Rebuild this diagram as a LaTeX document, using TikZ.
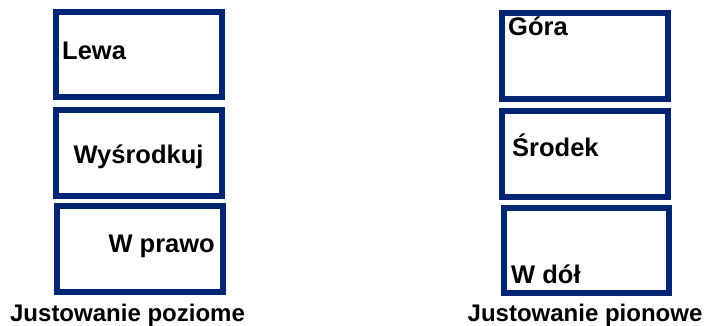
\documentclass[tikz,border=0pt]{standalone}
\usepackage{fontspec}
\setmainfont{Liberation Sans}
\definecolor{navy}{RGB}{0,38,115}
\begin{document}
\begin{tikzpicture}[x=1pt,y=-1pt,
  box/.style={draw=navy,line width=6pt,inner sep=0pt,minimum width=166pt,minimum height=86pt,fill=white},
  txt/.style={font=\fontsize{25.5}{30}\selectfont\bfseries,inner sep=0pt},
  captxt/.style={font=\fontsize{24}{29}\selectfont\bfseries,inner sep=0pt}]
\useasboundingbox[fill=white] (0,0) rectangle (717,326);
% left column
\node[box,minimum height=85pt] (l1) at (139,54.5) {};
\node[box] (l2) at (139,153) {};
\node[box] (l3) at (140,249) {};
\node[txt,anchor=base west] (lt1) at (62,60) {Lewa};
\node[txt,anchor=base] (lt2) at (138.5,163) {Wyśrodkuj};
\node[txt,anchor=base east] (lt3) at (215,252) {W prawo};
\node[captxt,anchor=base] (lc) at (127.5,321) {Justowanie poziome};
% right column
\node[box] (r1) at (585,56) {};
\node[box] (r2) at (585,154) {};
\node[box,minimum width=165pt,minimum height=85pt] (r3) at (586.5,250.5) {};
\node[txt,anchor=base west] (rt1) at (508,36) {Góra};
\node[txt,anchor=base west] (rt2) at (512,157) {Środek};
\node[txt,anchor=base west] (rt3) at (511,283) {W dół};
\node[captxt,anchor=base] (rc) at (585,321) {Justowanie pionowe};
\end{tikzpicture}
\end{document}
